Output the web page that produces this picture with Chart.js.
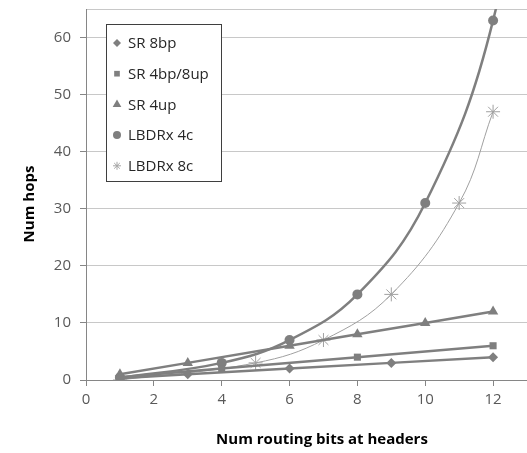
<!DOCTYPE html>
<html>
<head>
<meta charset="utf-8">
<script src="https://cdn.jsdelivr.net/npm/chart.js@4"></script>
<style>
  body { margin: 0; background: #fff; }
  #wrap { width: 527px; height: 453px; }
</style>
</head>
<body>
<div id="wrap"><canvas id="hops-chart" width="527" height="453"></canvas></div>
<script>
// values
var seriesNames = ['SR 8bp', 'SR 4bp/8up', 'SR 4up', 'LBDRx 4c', 'LBDRx 8c'];
var sr8bpX = [1, 3, 6, 9, 12];
var sr8bpY = [0.3, 1, 2, 3, 4];
var sr4bpX = [1, 4, 8, 12];
var sr4bpY = [0.5, 2, 4, 6];
var sr4upX = [1, 3, 6, 8, 10, 12];
var sr4upY = [1, 3, 6, 8, 10, 12];
var lbdr4cX = [1, 4, 6, 8, 10, 12, 14];
var lbdr4cY = [0.4, 3, 7, 15, 31, 63, 127];
var lbdr8cX = [1, 5, 7, 9, 11, 12];
var lbdr8cY = [0, 3, 7, 15, 31, 47];
var xTicks = [0, 2, 4, 6, 8, 10, 12];
var yTicks = [0, 10, 20, 30, 40, 50, 60];
var xMax = 13, yMax = 65;

var grey = '#7f7f7f';
var axisGrey = '#868686';

function pts(xs, ys) {
  return xs.map(function (x, i) { return {x: x, y: ys[i]}; });
}

function series(i, xs, ys, style, radius, width, color, tension) {
  return {
    label: seriesNames[i],
    data: pts(xs, ys),
    borderColor: color,
    backgroundColor: color,
    borderWidth: width,
    pointStyle: style,
    pointRadius: radius,
    pointBorderWidth: style === 'star' ? 1 : 0,
    pointBorderColor: color,
    pointBackgroundColor: color,
    tension: tension,
    showLine: true
  };
}

// ticks at the axis ends only carry the grid/border, no label or tick mark
function endTick(max) {
  return function (c) { return c.tick && c.tick.value === max ? 'rgba(0,0,0,0)' : axisGrey; };
}

var legendBox = {
  id: 'legendBox',
  afterDraw: function (chart) {
    var ctx = chart.ctx;
    var a = chart.chartArea;
    var left = a.left + 20, top = a.top + 15;
    ctx.save();
    ctx.fillStyle = '#fff';
    ctx.fillRect(left, top, 115, 157);
    ctx.strokeStyle = '#3f3f3f';
    ctx.lineWidth = 1;
    ctx.strokeRect(left + 0.5, top + 0.5, 115, 157);
    ctx.font = '15px "Open Sans"';
    ctx.textBaseline = 'middle';
    chart.data.datasets.forEach(function (ds, i) {
      var y = top + 19 + i * 30.7;
      var c = ds.pointStyle === 'star' ? '#a6a6a6' : grey;
      ctx.fillStyle = c;
      ctx.strokeStyle = c;
      Chart.helpers.drawPoint(ctx, {
        pointStyle: ds.pointStyle, radius: ds.pointStyle === 'triangle' ? 5 : 4,
        rotation: 0, borderWidth: ds.pointStyle === 'star' ? 1 : 0
      }, left + 11, y);
      ctx.fillStyle = '#262626';
      ctx.fillText(ds.label, left + 22, y + 1);
    });

    // axis titles
    ctx.fillStyle = '#000';
    ctx.font = 'bold 15px "Open Sans"';
    ctx.textAlign = 'center';
    ctx.fillText('Num routing bits at headers', 322, 440);
    ctx.translate(30, 204);
    ctx.rotate(-Math.PI / 2);
    ctx.fillText('Num hops', 0, 0);
    ctx.restore();
  }
};

new Chart(document.getElementById('hops-chart').getContext('2d'), {
  type: 'scatter',
  data: {
    datasets: [
      series(0, sr8bpX, sr8bpY, 'rectRot', 5, 2.5, grey, 0),
      series(1, sr4bpX, sr4bpY, 'rect', 5, 2.5, grey, 0),
      series(2, sr4upX, sr4upY, 'triangle', 6, 2.5, grey, 0),
      series(3, lbdr4cX, lbdr4cY, 'circle', 5, 2.5, grey, 0.4),
      series(4, lbdr8cX, lbdr8cY, 'star', 7, 1, '#a0a0a0', 0.4)
    ]
  },
  options: {
    responsive: false,
    animation: false,
    layout: {autoPadding: false, padding: {top: 9, right: 0, left: 0, bottom: 0}},
    plugins: {legend: {display: false}, tooltip: {enabled: false}},
    scales: {
      x: {
        type: 'linear', min: 0, max: xMax,
        afterBuildTicks: function (s) {
          s.ticks = xTicks.concat([xMax]).map(function (v) { return {value: v}; });
        },
        afterFit: function (s) { s.height = 73; s.paddingLeft = 0; s.paddingRight = 0; },
        grid: {drawOnChartArea: false, tickLength: 6, tickColor: endTick(xMax)},
        border: {color: axisGrey},
        ticks: {
          color: '#595959', font: {family: 'Open Sans', size: 15}, padding: 5, maxRotation: 0,
          callback: function (v) { return v === xMax ? '' : v; }
        }
      },
      y: {
        min: 0, max: yMax,
        afterBuildTicks: function (s) {
          s.ticks = yTicks.concat([yMax]).map(function (v) { return {value: v}; });
        },
        afterFit: function (s) { s.width = 86; s.paddingTop = 0; s.paddingBottom = 0; },
        grid: {color: '#c8c8c8', tickLength: 6, tickColor: endTick(yMax)},
        border: {color: axisGrey},
        ticks: {
          color: '#595959', font: {family: 'Open Sans', size: 15}, padding: 9,
          callback: function (v) { return v === yMax ? '' : v; }
        }
      }
    }
  },
  plugins: [legendBox]
});
</script>
</body>
</html>
